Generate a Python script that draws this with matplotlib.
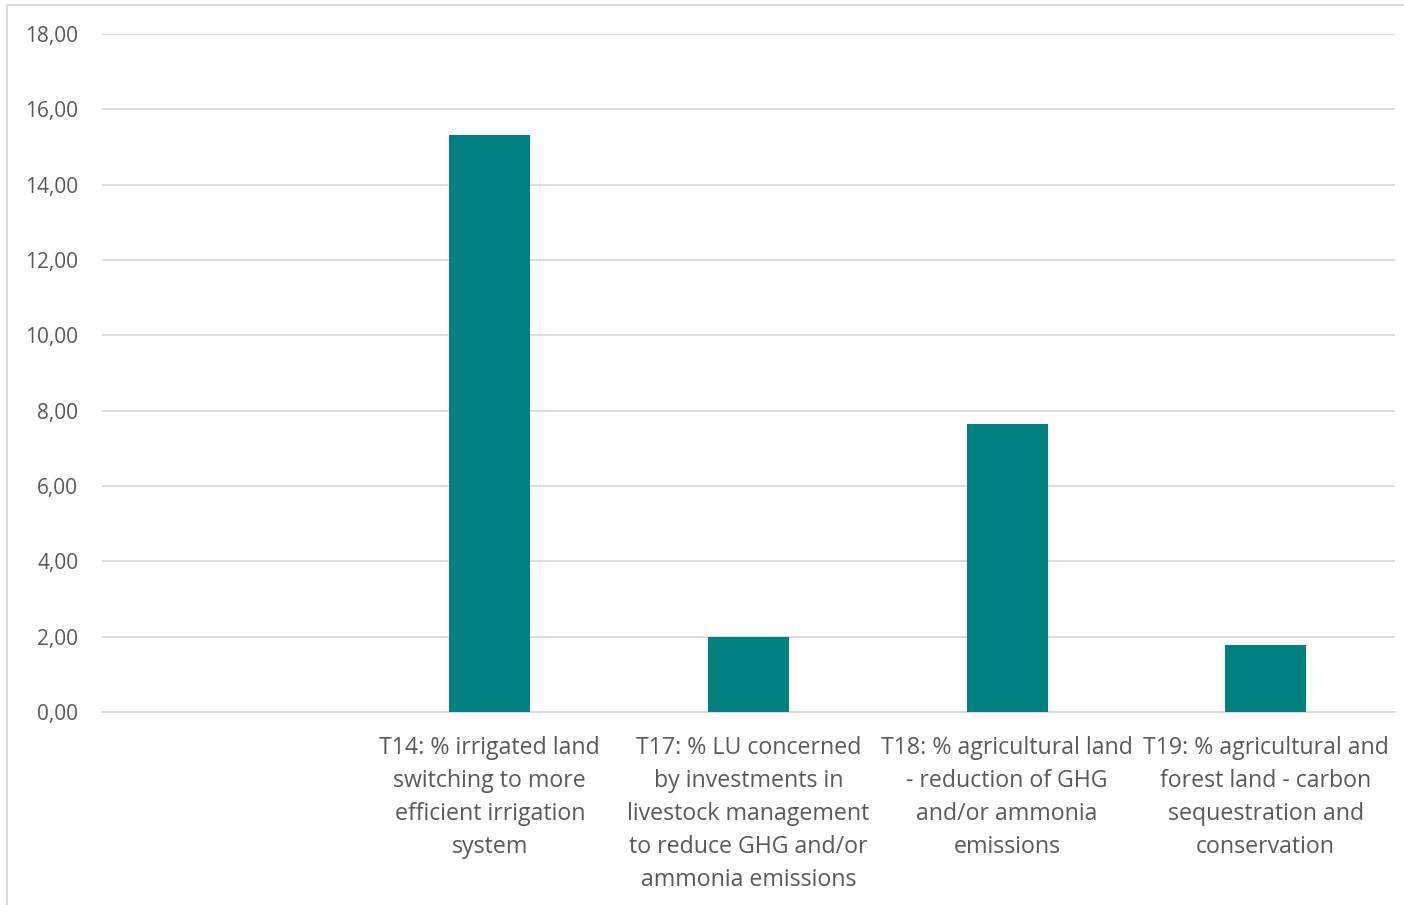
import matplotlib.pyplot as plt
from matplotlib.patches import Rectangle
from matplotlib.ticker import FuncFormatter

plt.rcParams['font.family'] = ['Open Sans', 'DejaVu Sans']

categories = [
    "",
    "T14: % irrigated land\nswitching to more\nefficient irrigation\nsystem",
    "T17: % LU concerned\nby investments in\nlivestock management\nto reduce GHG and/or\nammonia emissions",
    "T18: % agricultural land\n- reduction of GHG\nand/or ammonia\nemissions",
    "T19: % agricultural and\nforest land - carbon\nsequestration and\nconservation",
]
values = [0.0, 15.32, 1.99, 7.65, 1.78]
yticks = [0, 2, 4, 6, 8, 10, 12, 14, 16, 18]

text_col = "#595959"
grid_col = "#d9d9d9"

fig = plt.figure(figsize=(14.04, 9.05), dpi=100)
ax = fig.add_axes([0.0726, 0.2133, 0.9210, 0.7491])

x = range(len(categories))
ax.bar(x, values, width=0.313, color="#008080", zorder=3)

ax.set_xlim(-0.5, len(categories) - 0.5)
ax.set_ylim(0, 18)
ax.set_yticks(yticks)
ax.yaxis.set_major_formatter(FuncFormatter(lambda v, p: f"{v:.2f}".replace(".", ",")))
ax.set_xticks(list(x))
ax.set_xticklabels(categories, linespacing=1.5)

ax.grid(axis="y", color=grid_col, linewidth=1.3, zorder=0)
ax.tick_params(axis="both", length=0, colors=text_col)
ax.tick_params(axis="y", pad=17, labelsize=15)
ax.tick_params(axis="x", pad=17, labelsize=16.7)
for s in ["top", "right", "left"]:
    ax.spines[s].set_visible(False)
ax.spines["bottom"].set_color(grid_col)
ax.spines["bottom"].set_linewidth(1.3)

# light frame around the chart area
fig.patches.append(Rectangle((7 / 1404, -0.01), 1.2, 1 - 5 / 905 + 0.01,
                             transform=fig.transFigure, fill=False,
                             edgecolor=grid_col, linewidth=1.5))

fig.savefig("out.png", dpi=100)
